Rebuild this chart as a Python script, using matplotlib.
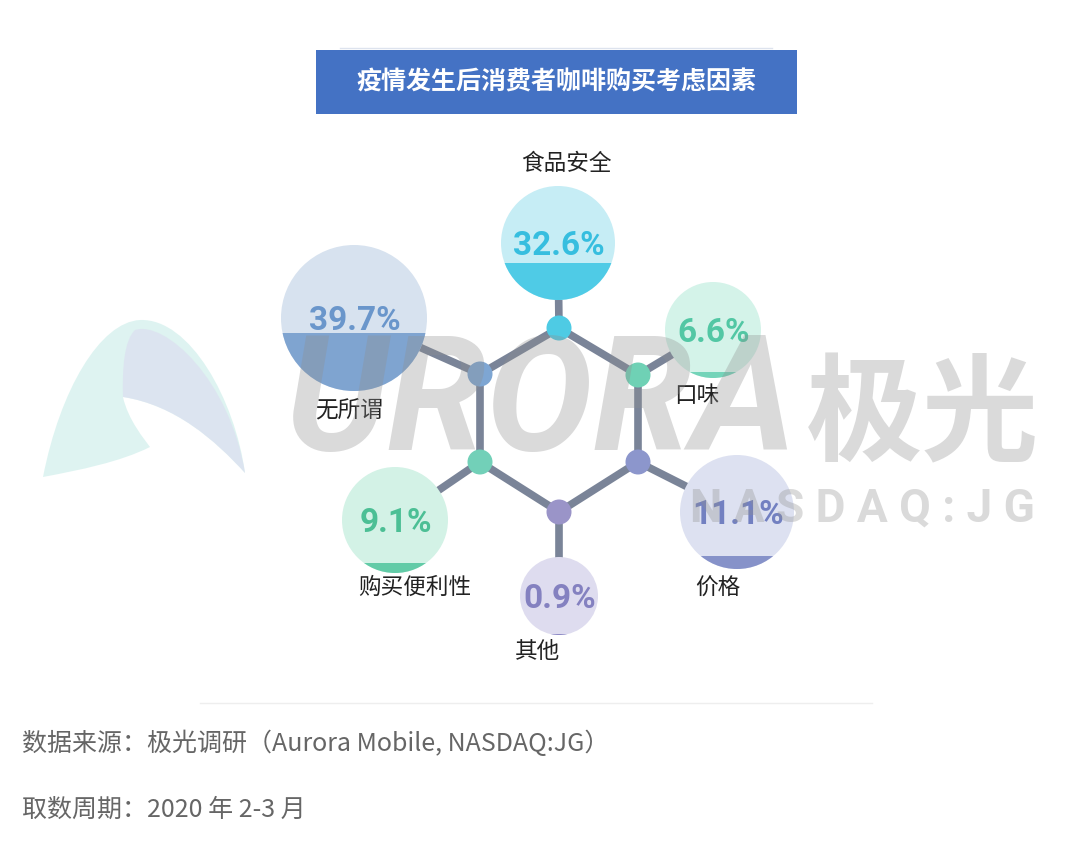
import matplotlib
matplotlib.use('Agg')
import matplotlib.pyplot as plt
from matplotlib.patches import Circle, Rectangle, PathPatch
from matplotlib.path import Path

plt.rcParams['font.family'] = ['Noto Sans CJK SC', 'DejaVu Sans']

# data
title = '疫情发生后消费者咖啡购买考虑因素'
labels = ['食品安全', '口味', '价格', '其他', '购买便利性', '无所谓']
values = [32.6, 6.6, 11.1, 0.9, 9.1, 39.7]
source_text = '数据来源：极光调研（Aurora Mobile, NASDAQ:JG）'
period_text = '取数周期：2020 年 2-3 月'

# layout (pixels)
nodes = [(559, 328), (638, 375), (638, 462), (559, 512), (480, 462), (480, 374)]
bubbles = [(558, 243), (713, 330), (737, 512), (559, 596), (395, 520), (354, 318)]
radii = [57, 48, 57, 39, 53, 73]
label_pos = [(566, 163), (697, 396), (718, 588), (538, 651), (415, 587), (349, 410)]
light_cols = ['#c6edf5', '#d4f3e9', '#dde1f1', '#dedcef', '#d3f2e6', '#d7e2ef']
fill_cols = ['#4fcbe6', '#74d4b9', '#8692c9', '#8e8bc6', '#62cba7', '#7fa4d0']
text_cols = ['#36bedf', '#52c7a4', '#7280c1', '#8481c0', '#4cbf95', '#6a96cb']
node_cols = ['#4ecbe4', '#6fd1b5', '#8c96cc', '#9a94c8', '#72d0b8', '#7ea6d3']
edge_col = '#7a8498'

fig = plt.figure(figsize=(10.8, 8.59), dpi=100)
ax = fig.add_axes([0, 0, 1, 1])
ax.set_xlim(0, 1080)
ax.set_ylim(859, 0)
ax.axis('off')

# title banner
ax.add_patch(Rectangle((316, 50), 481, 64, fc='#4472c4', ec='none', zorder=1))
ax.plot([340, 772], [48, 48], color='#dde3ee', lw=1, zorder=1)
ax.text(556, 82, title, color='white', fontsize=18, fontweight='bold',
        ha='center', va='center', zorder=2)

# hexagon
for i in range(6):
    x0, y0 = nodes[i]
    x1, y1 = nodes[(i + 1) % 6]
    ax.plot([x0, x1], [y0, y1], color=edge_col, lw=5.5, solid_capstyle='round', zorder=2)
# bonds to bubbles
for (nx, ny), (bx, by) in zip(nodes, bubbles):
    ax.plot([nx, bx], [ny, by], color=edge_col, lw=5.5, zorder=2)

# bubbles
for i in range(6):
    bx, by = bubbles[i]
    r = radii[i]
    c = Circle((bx, by), r, fc=light_cols[i], ec='none', zorder=3)
    ax.add_patch(c)
    h = 2 * r * values[i] / 100
    rect = Rectangle((bx - r, by + r - h), 2 * r, h, fc=fill_cols[i], ec='none', zorder=4)
    ax.add_patch(rect)
    rect.set_clip_path(c)
    ax.text(bx + 1, by + 3, f'{values[i]}%', color=text_cols[i], fontsize=24, fontweight='bold',
            family=['Roboto', 'DejaVu Sans'],
            ha='center', va='center', zorder=5)
    lx, ly = label_pos[i]
    ax.text(lx, ly, labels[i], color='#222222', fontsize=16.3, ha='center', va='center', zorder=5)

# nodes
for (nx, ny), col in zip(nodes, node_cols):
    ax.add_patch(Circle((nx, ny), 12.5, fc=col, ec='none', zorder=6))

# watermark logo (leaf)
leaf = Path([(43, 477), (60, 390), (100, 322), (140, 320),
             (190, 318), (235, 400), (245, 473),
             (215, 440), (175, 405), (123, 397),
             (128, 420), (145, 440), (150, 447),
             (120, 462), (80, 470), (43, 477)],
            [Path.MOVETO, Path.CURVE4, Path.CURVE4, Path.CURVE4,
             Path.CURVE4, Path.CURVE4, Path.CURVE4,
             Path.CURVE4, Path.CURVE4, Path.CURVE4,
             Path.CURVE4, Path.CURVE4, Path.CURVE4,
             Path.CURVE4, Path.CURVE4, Path.CURVE4])
ax.add_patch(PathPatch(leaf, fc='#d6f1ee', ec='none', alpha=0.8, zorder=0))
inner = Path([(123, 397), (122, 370), (124, 340), (135, 330),
              (165, 320), (230, 380), (245, 473),
              (215, 440), (175, 405), (123, 397)],
             [Path.MOVETO, Path.CURVE4, Path.CURVE4, Path.CURVE4,
              Path.CURVE4, Path.CURVE4, Path.CURVE4,
              Path.CURVE4, Path.CURVE4, Path.CURVE4])
ax.add_patch(PathPatch(inner, fc='#dcdff0', ec='none', alpha=0.7, zorder=0))

# watermark text
ax.text(286, 450, 'URORA', color='#8f8f8f', alpha=0.33, fontsize=115,
        family=['Roboto', 'DejaVu Sans'], fontweight='bold', fontstyle='italic',
        ha='left', va='baseline', zorder=7)
ax.text(806, 452, '极光', color='#8f8f8f', alpha=0.33, fontsize=84, fontweight='bold',
        ha='left', va='baseline', zorder=7)
ax.text(690, 522, 'N A S D A Q : J G', color='#8f8f8f', alpha=0.33, fontsize=33,
        family=['Roboto', 'DejaVu Sans'], fontweight='bold',
        ha='left', va='baseline', zorder=7)

# separator and footer
ax.plot([200, 872], [703, 703], color='#eeeeee', lw=1, zorder=1)
ax.text(22, 744, source_text, color='#666666', fontsize=18, ha='left', va='center')
ax.text(22, 810, period_text, color='#666666', fontsize=18, ha='left', va='center')

fig.savefig('out.png', dpi=100, facecolor='white')
